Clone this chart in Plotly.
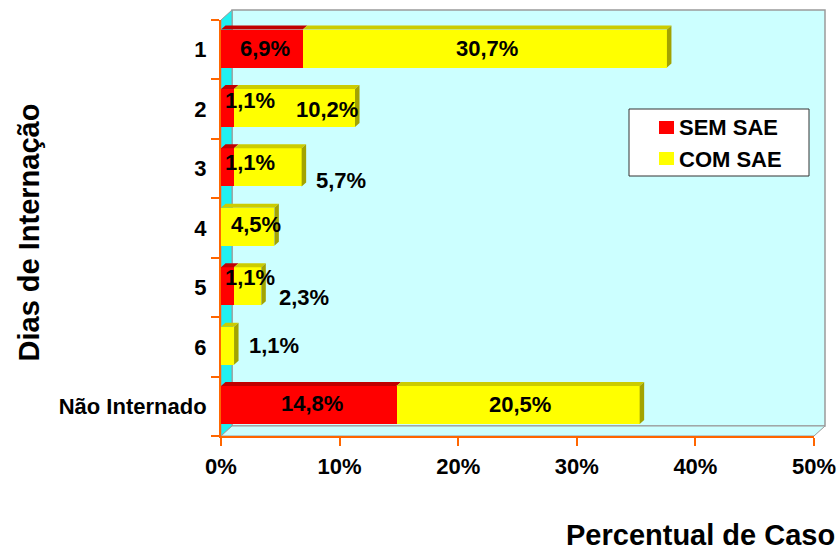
import plotly.graph_objects as go

# Dias de internação x percentual de casos, com e sem SAE
categorias = ["1", "2", "3", "4", "5", "6", "Não Internado"]
sem_sae = [6.9, 1.1, 1.1, 0.0, 1.1, 0.0, 14.8]
com_sae = [30.7, 10.2, 5.7, 4.5, 2.3, 1.1, 20.5]
series_names = ["SEM SAE", "COM SAE"]
ticks_x = [0, 10, 20, 30, 40, 50]
ticks_x_text = [f"{v}%" for v in ticks_x]

# ---- layout geometry (pixels) ----
W, H = 837, 551
ML, MR, MT, MB = 221, 23, 20, 115
PW, PH = W - ML - MR, H - MT - MB
XMAX = 50
px_x = PW / XMAX                    # pixels per percent
px_y = PH / len(categorias)         # pixels per category

BAR_W = 0.64
BAR_OFF = -0.34
BAR_DX = 4.5 / px_x                 # bar depth, data units
BAR_DY = 4.0 / px_y
WALL_DX = 11 / PW                   # wall depth, paper units
WALL_DY = 10 / PH

RED, RED_TOP = "#FF0000", "#C00000"
YEL, YEL_TOP, YEL_SIDE = "#FFFF00", "#CCCC00", "#A3A300"
WALL, LEFT_WALL, EDGE = "#CCFFFF", "#20F0F0", "#9A9A9A"
ORANGE = "#FF6600"
FONT = "Liberation Sans, Arial, sans-serif"
TXT = 22


def px2paper(x, y):
    return (x - ML) / PW, (MT + PH - y) / PH


pos = list(range(len(categorias)))

fig = go.Figure()
fig.add_trace(go.Bar(y=pos, x=sem_sae, orientation="h", name=series_names[0],
                     marker=dict(color=RED, line=dict(width=0)),
                     width=BAR_W, offset=BAR_OFF, showlegend=False))
fig.add_trace(go.Bar(y=pos, x=com_sae, orientation="h", name=series_names[1],
                     marker=dict(color=YEL, line=dict(width=0)),
                     width=BAR_W, offset=BAR_OFF, showlegend=False))

shapes = []
# back wall, left wall and floor of the 3D box
shapes.append(dict(type="path", xref="paper", yref="paper", layer="below",
                   path=f"M{WALL_DX},{WALL_DY} L{1+WALL_DX},{WALL_DY} L{1+WALL_DX},{1+WALL_DY} L{WALL_DX},{1+WALL_DY} Z",
                   fillcolor=WALL, line=dict(color=EDGE, width=1.5)))
shapes.append(dict(type="path", xref="paper", yref="paper", layer="below",
                   path=f"M0,0 L{WALL_DX},{WALL_DY} L{WALL_DX},{1+WALL_DY} L0,1 Z",
                   fillcolor=LEFT_WALL, line=dict(color=EDGE, width=1)))
shapes.append(dict(type="path", xref="paper", yref="paper", layer="below",
                   path=f"M0,0 L1,0 L{1+WALL_DX},{WALL_DY} L{WALL_DX},{WALL_DY} Z",
                   fillcolor=WALL, line=dict(color=EDGE, width=1)))


def face(x0, x1, y0, y1, x2, x3, y2, y3, color):
    return dict(type="path", xref="x", yref="y", layer="above",
                path=f"M{x0},{y0} L{x1},{y1} L{x2},{y2} L{x3},{y3} Z",
                fillcolor=color, line=dict(width=0))


# top and side faces of each stacked bar
for i in pos:
    top = i + BAR_OFF
    bot = top + BAR_W
    s, c = sem_sae[i], com_sae[i]
    if s > 0:
        shapes.append(face(0, s, top, top, s + BAR_DX, BAR_DX, top - BAR_DY, top - BAR_DY, RED_TOP))
    shapes.append(face(s, s + c, top, top, s + c + BAR_DX, s + BAR_DX, top - BAR_DY, top - BAR_DY, YEL_TOP))
    end = s + c
    shapes.append(face(end, end, top, bot, end + BAR_DX, end + BAR_DX, bot - BAR_DY, top - BAR_DY, YEL_SIDE))

# legend box with colour keys
lx0, ly0 = px2paper(629, 109)
lx1, ly1 = px2paper(809, 176)
shapes.append(dict(type="rect", xref="paper", yref="paper", layer="above",
                   x0=lx0, y0=ly1, x1=lx1, y1=ly0, fillcolor="white",
                   line=dict(color="#333333", width=1)))
legend_rows = [(series_names[0], RED, 128), (series_names[1], YEL, 159)]
annotations = []
for name, color, yc in legend_rows:
    kx0, ky0 = px2paper(659, yc - 7)
    kx1, ky1 = px2paper(674, yc + 6)
    shapes.append(dict(type="rect", xref="paper", yref="paper", layer="above",
                       x0=kx0, y0=ky1, x1=kx1, y1=ky0, fillcolor=color, line=dict(width=0)))
    tx, ty = px2paper(677, yc)
    annotations.append(dict(text=name, x=tx, y=ty, xref="paper", yref="paper",
                            xanchor="left", yanchor="middle", showarrow=False,
                            font=dict(family=FONT, size=TXT, color="black", weight="bold")))

# value labels; pixel nudges per (row, series)
nudge_sem = {0: (3, 0), 1: (22, 7), 2: (22, 5), 4: (22, 9), 6: (3, 2)}
nudge_com = {0: (2, 0), 1: (32, -2), 2: (73, -13), 3: (8, 2), 4: (56, -11), 5: (46, 0), 6: (2, 1)}


def fmt(v):
    return f"{v:.1f}".replace(".", ",") + "%"


for i in pos:
    s, c = sem_sae[i], com_sae[i]
    yc = i + BAR_OFF + BAR_W / 2
    if s > 0:
        dx, dy = nudge_sem[i]
        annotations.append(dict(x=s / 2, y=yc, xref="x", yref="y", text=fmt(s), showarrow=False,
                                xshift=dx, yshift=dy,
                                font=dict(family=FONT, size=TXT, color="black", weight="bold")))
    dx, dy = nudge_com[i]
    annotations.append(dict(x=s + c / 2, y=yc, xref="x", yref="y", text=fmt(c), showarrow=False,
                            xshift=dx, yshift=dy,
                            font=dict(family=FONT, size=TXT, color="black", weight="bold")))

# axis titles
ax_x, ax_y = px2paper(28, 232.5)
annotations.append(dict(text="Dias de Internação", textangle=-90, showarrow=False,
                        xref="paper", yref="paper", x=ax_x, y=ax_y,
                        xanchor="center", yanchor="middle",
                        font=dict(family=FONT, size=29, color="black", weight="bold")))
bx_x, bx_y = px2paper(700.5, 534.5)
annotations.append(dict(text="Percentual de Caso", showarrow=False,
                        xref="paper", yref="paper", x=bx_x, y=bx_y,
                        xanchor="center", yanchor="middle",
                        font=dict(family=FONT, size=29, color="black", weight="bold")))

fig.update_layout(
    width=W, height=H,
    margin=dict(l=ML, r=MR, t=MT, b=MB, autoexpand=False),
    barmode="stack",
    paper_bgcolor="white",
    plot_bgcolor="rgba(0,0,0,0)",
    shapes=shapes,
    annotations=annotations,
    font=dict(family=FONT, color="black"),
    showlegend=False,
    xaxis=dict(range=[0, XMAX], tickvals=ticks_x, ticktext=ticks_x_text,
               showgrid=False, zeroline=False,
               showline=True, linecolor=ORANGE, linewidth=2,
               ticks="outside", ticklen=8, tickwidth=2, tickcolor=ORANGE,
               ticklabelstandoff=2,
               tickfont=dict(family=FONT, size=TXT, color="black", weight="bold")),
    yaxis=dict(range=[len(categorias) - 0.5, -0.5], tickvals=pos, ticktext=categorias,
               showgrid=False, zeroline=False,
               showline=True, linecolor=ORANGE, linewidth=2,
               ticks="", ticklabelstandoff=8,
               minor=dict(tickvals=[p - 0.5 for p in pos] + [len(categorias) - 0.5],
                          ticks="outside", ticklen=8, tickwidth=2, tickcolor=ORANGE, showgrid=False),
               tickfont=dict(family=FONT, size=TXT, color="black", weight="bold")),
)

fig.write_html("out.html")
